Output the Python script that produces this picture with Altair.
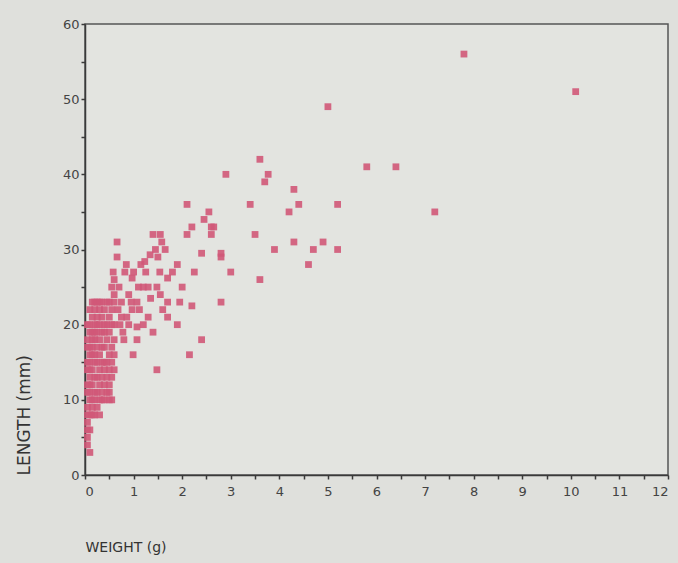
import altair as alt
import pandas as pd

# Scattered (outer) observations: weight (g), length (mm)
outer_w = [10.1, 7.8, 5.0, 7.2, 6.4, 5.8, 5.2, 5.2, 4.9, 4.7, 4.6, 4.3, 4.3, 4.4, 4.2,
           3.9, 3.77, 3.7, 3.6, 3.4, 2.9, 3.5, 3.6, 3.0, 2.8, 2.4, 2.8, 2.6, 2.55, 2.4,
           2.1, 2.45, 2.2, 2.1, 2.6, 1.9, 2.25, 2.0, 1.95, 2.2, 1.9, 2.15, 2.8, 2.65]
outer_l = [51, 56, 49, 35, 41, 41, 36, 30, 31, 30, 28, 31, 38, 36, 35,
           30, 40, 39, 42, 36, 40, 32, 26, 27, 23, 18, 29.5, 32, 35, 29.5,
           36, 34, 33, 32, 33, 28, 27, 25, 23, 22.5, 20, 16, 29, 33]

# Middle band 0.6 - 1.8 g
mid_w = [0.66, 0.66, 1.4, 1.58, 1.34, 1.23, 1.54, 1.7, 0.58, 0.82, 0.97, 1.2, 1.48,
         1.07, 0.97, 0.86, 1.07, 0.78, 1.07, 0.99, 1.4, 1.48, 1.7, 1.65, 1.5, 1.1,
         1.3, 0.9, 0.7, 0.75, 1.0, 1.25, 0.6, 1.55, 1.45, 1.15, 0.85, 1.8, 1.6, 1.3,
         1.2, 1.35, 0.9, 0.75, 0.8, 1.55, 1.7, 0.95, 1.12, 0.68, 0.72]
mid_l = [31, 29, 32, 31, 29.3, 28.4, 27, 26.2, 27, 27, 26.2, 25, 25,
         23, 22, 21, 19.7, 19, 18, 16, 19, 14, 21, 30, 29, 25,
         25, 24, 25, 23, 27, 27, 24, 32, 30, 28, 28, 27, 22, 21,
         20, 23.5, 20, 21, 18, 24, 23, 23, 22, 22, 20]

# Dense cluster near the origin (weight, length)
dense_w = [0.05, 0.05, 0.05, 0.05, 0.05, 0.05, 0.05, 0.05, 0.05, 0.05, 0.05, 0.05, 0.05,
           0.1, 0.1, 0.1, 0.1, 0.1, 0.1, 0.1, 0.1, 0.1, 0.1, 0.1, 0.1, 0.1, 0.1,
           0.15, 0.15, 0.15, 0.15, 0.15, 0.15, 0.15, 0.15, 0.15, 0.15, 0.15,
           0.2, 0.2, 0.2, 0.2, 0.2, 0.2, 0.2, 0.2, 0.2, 0.2, 0.2,
           0.25, 0.25, 0.25, 0.25, 0.25, 0.25, 0.25, 0.25, 0.25,
           0.3, 0.3, 0.3, 0.3, 0.3, 0.3, 0.3, 0.3, 0.3,
           0.35, 0.35, 0.35, 0.35, 0.35, 0.35, 0.35, 0.35,
           0.4, 0.4, 0.4, 0.4, 0.4, 0.4, 0.4, 0.4,
           0.45, 0.45, 0.45, 0.45, 0.45, 0.45,
           0.5, 0.5, 0.5, 0.5, 0.5, 0.5, 0.5, 0.5,
           0.55, 0.55, 0.55, 0.55, 0.55, 0.55, 0.55,
           0.6, 0.6, 0.6, 0.6, 0.6, 0.6]
dense_l = [4, 5, 6, 7, 8, 9, 11, 12, 14, 15, 17, 18, 20,
           3, 6, 8, 10, 11, 12, 13, 14, 15, 16, 17, 19, 20, 22,
           8, 9, 10, 12, 14, 16, 17, 18, 19, 21, 23,
           8, 10, 11, 13, 15, 16, 18, 19, 20, 22, 23,
           9, 11, 13, 15, 17, 19, 20, 21, 23,
           8, 10, 12, 14, 16, 18, 20, 22, 23,
           10, 11, 13, 15, 17, 19, 21, 23,
           10, 12, 14, 15, 17, 19, 20, 22,
           11, 13, 15, 18, 20, 23,
           10, 11, 12, 14, 16, 19, 21, 23,
           10, 13, 15, 17, 20, 22, 25,
           14, 16, 18, 20, 23, 26]

weights = outer_w + mid_w + dense_w
lengths = outer_l + mid_l + dense_l
df = pd.DataFrame({"weight": weights, "length": lengths})

x_ticks = [i * 0.5 for i in range(25)]
y_ticks = [i * 5 for i in range(13)]

FONT = "DejaVu Sans"
AXIS_COL = "#3a3a3a"

chart = alt.Chart(df).mark_square(
    size=46, color="#d05878", opacity=0.9
).encode(
    x=alt.X("weight:Q",
            scale=alt.Scale(domain=[0, 12], nice=False, zero=True),
            axis=alt.Axis(values=x_ticks, grid=False, tickSize=4, labelPadding=6,
                          labelExpr="datum.value % 1 == 0 ? format(datum.value, 'd') : ''",
                          title="WEIGHT (g)", titleX=0, titleY=72,
                          titleAlign="left", titleBaseline="middle",
                          titleFontSize=14, titleFontWeight="normal",
                          labelFontSize=13, labelColor="#444", titleColor="#333",
                          domainColor=AXIS_COL, domainWidth=1.5, tickColor=AXIS_COL,
                          tickWidth=1.5, labelFont=FONT, titleFont=FONT)),
    y=alt.Y("length:Q",
            scale=alt.Scale(domain=[0, 60], nice=False),
            axis=alt.Axis(values=y_ticks, grid=False, tickSize=4, labelPadding=2,
                          labelExpr="datum.value % 10 == 0 ? format(datum.value, 'd') : ''",
                          title="LENGTH (mm)", titleAngle=270, titleX=-61, titleY=451,
                          titleAlign="left", titleBaseline="middle",
                          titleFontSize=17, titleFontWeight="normal",
                          labelFontSize=13, labelColor="#444", titleColor="#333",
                          domainColor=AXIS_COL, domainWidth=1.5, tickColor=AXIS_COL,
                          tickWidth=1.5, labelFont=FONT, titleFont=FONT)),
).properties(
    width=583, height=451,
    autosize="none",
    padding={"left": 85, "top": 24, "right": 10, "bottom": 88},
    background="#dfe0dc",
).configure_view(
    stroke="#555", strokeWidth=1.5, fill="#e3e4e0"
)

chart.save("out.html", embed_options={"renderer": "svg", "actions": False})
